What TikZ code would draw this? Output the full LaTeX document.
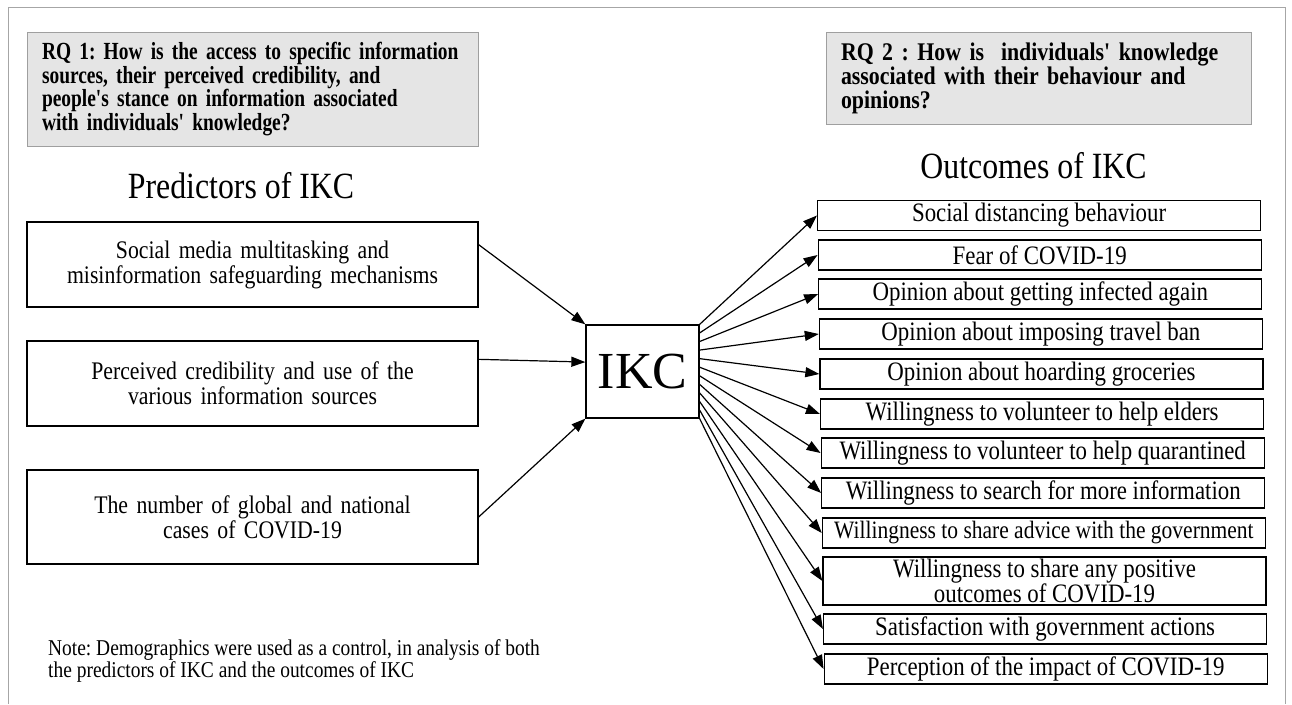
\documentclass[tikz,border=0pt]{standalone}
\usepackage{fontspec}
\setmainfont{Liberation Serif}
\newfontfamily\narrowfont{Liberation Serif}[FakeStretch=0.86]
\newfontfamily\rqfont{Liberation Serif}[FakeStretch=0.79]
\usepackage{tikz}
\usetikzlibrary{arrows.meta, positioning, calc}
\frenchspacing

\tikzset{
    rqbox/.style={draw=gray!75, fill=gray!20, line width=1pt, align=left, inner xsep=15pt},
    predbox/.style={draw, line width=1.3pt, minimum width=451pt, text width=420pt, align=center,
        font=\narrowfont\fontsize{25.3}{25}\selectfont},
    outbox/.style={draw, line width=1.3pt, minimum width=443pt, minimum height=30pt, inner sep=0pt,
        align=center, font=\narrowfont\fontsize{26.6}{22}\selectfont},
    heading/.style={font=\narrowfont\fontsize{37}{38}\selectfont},
    arr/.style={-{Triangle[length=14pt,width=10pt]}, line width=1.2pt}
}

\begin{document}
\begin{tikzpicture}[x=1pt, y=-1pt]
            \useasboundingbox (0,0) rectangle (1292,704);
            \draw[gray!70, line width=1pt] (8,704) |- (1285,7) -- (1285,704);

            % research questions
            \node[rqbox, minimum width=451pt, minimum height=114pt, text width=421pt,
                font=\rqfont\fontsize{24.6}{21.7}\selectfont\bfseries] (rqa) at (252.5,89)
                {RQ 1: How is the access to specific information\\sources, their perceived credibility, and\\people's stance on information associated\\with individuals' knowledge?};
            \node[rqbox, minimum width=425pt, minimum height=92pt, text width=395pt,
                font=\narrowfont\fontsize{25.4}{24}\selectfont\bfseries] (rqb) at (1038.5,78)
                {RQ 2 : How is\ \ individuals' knowledge\\associated with their behaviour and\\opinions?};

            \node[heading] (predhead) at (241,186) {Predictors of IKC};
            \node[heading] (outhead) at (1033.5,166) {Outcomes of IKC};

            % predictors
            \node[predbox, minimum height=85pt] (predA) at (252.5,264.5)
                {Social media multitasking and\\misinformation safeguarding mechanisms};
            \node[predbox, minimum height=85pt] (predB) at (252.5,383.5)
                {Perceived credibility and use of the\\various information sources};
            \node[predbox, minimum height=94pt] (predC) at (252.5,517)
                {The number of global and national\\cases of COVID-19};

            \node[draw, line width=1.3pt, minimum width=113pt, minimum height=93pt, inner sep=0pt,
                font=\fontsize{52}{52}\selectfont] (ikc) at (642.5,371.5) {IKC};

            \draw[arr] ($(predA.north east)!0.27!(predA.south east)$) -- (ikc.north west);
            \draw[arr] ($(predB.north east)!0.22!(predB.south east)$) -- ($(ikc.north west)!0.4!(ikc.south west)$);
            \draw[arr] (predC.east) -- (ikc.south west);

            % outcomes
            \foreach \i/\y/\h/\txt in {
                1/215.5/30/{Social distancing behaviour},
                2/255/30/{Fear of COVID-19},
                3/294/30/{Opinion about getting infected again},
                4/334/30/{Opinion about imposing travel ban},
                5/374/30/{Opinion about hoarding groceries},
                6/414/30/{Willingness to volunteer to help elders},
                7/453/30/{Willingness to volunteer to help quarantined},
                8/493/30/{Willingness to search for more information},
                9/533/30/{\fontsize{25}{22}\selectfont Willingness to share advice with the government},
                10/581/48/{Willingness to share any positive\\outcomes of COVID-19},
                11/629/30/{Satisfaction with government actions},
                12/669/30/{Perception of the impact of COVID-19}}{
                \node[outbox, minimum height=\h pt] (o\i) at (1038.5+0.6*\i,\y) {\txt};
                \draw[arr] ($(ikc.north east)!{(\i-1)/11}!(ikc.south east)$) -- (o\i.west);
            }

            \node[anchor=west, align=left, inner sep=0pt, font=\narrowfont\fontsize{22.6}{22}\selectfont] (note) at (48,661)
                {Note: Demographics were used as a control, in analysis of both\\the predictors of IKC and the outcomes of IKC};
\end{tikzpicture}
\end{document}
